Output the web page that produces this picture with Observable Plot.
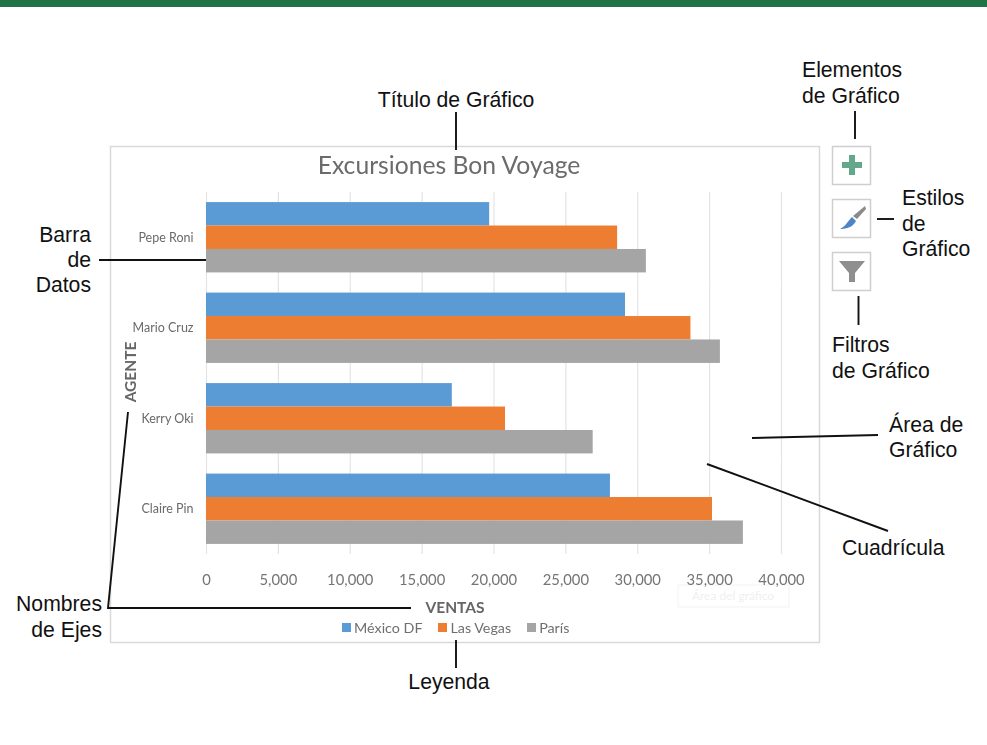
<!DOCTYPE html>
<html lang="es">
<head>
<meta charset="utf-8">
<script src="https://cdn.jsdelivr.net/npm/d3@7"></script>
<script src="https://cdn.jsdelivr.net/npm/@observablehq/plot@0.6"></script>
<style>
html,body{margin:0;padding:0;background:#fff;width:987px;height:745px;overflow:hidden}
#wrap{position:relative;width:987px;height:745px}
#wrap svg{position:absolute;left:0;top:0}
#legend{position:absolute;left:342px;top:616px;z-index:2;filter:blur(.4px)}
#legend svg{position:static;margin-right:3px !important}
#legend span{margin-right:16px !important}
g[aria-label$="tick label"],.soft{filter:blur(.4px)}
</style>
</head>
<body>
<div id="wrap"><div id="legend"></div></div>
<script>
const agents = ["Pepe Roni", "Mario Cruz", "Kerry Oki", "Claire Pin"];
const seriesNames = ["México DF", "Las Vegas", "París"];
const mexicoDF = [19700, 29150, 17100, 28100];
const lasVegas = [28600, 33700, 20800, 35200];
const paris = [30600, 35750, 26900, 37350];
const seriesColors = ["#5b9bd5", "#ed7d31", "#a5a5a5"];
const xTicks = [0, 5000, 10000, 15000, 20000, 25000, 30000, 35000, 40000];

const rows = [mexicoDF, lasVegas, paris].flatMap((vals, s) =>
  vals.map((value, a) => ({agent: agents[a], series: seriesNames[s], value})));

const chartFont = "Lato, 'Open Sans', sans-serif";
const calloutFont = "'Liberation Sans', Arial, sans-serif";

const plot = Plot.plot({
  width: 987,
  height: 745,
  marginLeft: 206,
  marginRight: 206,
  marginTop: 192,
  marginBottom: 191,
  style: {background: "transparent", overflow: "visible"},
  x: {domain: [0, 40000], label: null},
  y: {domain: seriesNames, axis: null, paddingInner: 0, paddingOuter: 0.43, round: false, label: null},
  fy: {domain: agents, padding: 0, round: false, label: null},
  color: {domain: seriesNames, range: seriesColors},
  marks: [
    Plot.ruleX(xTicks, {stroke: "#e4e4e4", strokeWidth: 1.2}),
    Plot.barX(rows, {x: "value", y: "series", fy: "agent", fill: "series"}),
    Plot.axisX({anchor: "bottom", ticks: xTicks, tickFormat: d3.format(","), tickSize: 0, tickPadding: 20,
      label: null, fill: "#757575", fontSize: 14.8, fontFamily: chartFont}),
    Plot.axisFy({anchor: "left", tickSize: 0, tickPadding: 13, label: null,
      fill: "#6a6a6a", fontSize: 12.5, fontFamily: chartFont})
  ]
});

const wrap = document.getElementById("wrap");
wrap.appendChild(plot);

/* Legend via the plot's own colour scale */
const legend = plot.legend("color", {swatchWidth: 9, swatchHeight: 9, label: null,
  style: {fontFamily: chartFont, fontSize: "14.3px", color: "#6f6f6f", margin: 0, minHeight: "22px"}});
document.getElementById("legend").appendChild(legend);

const svg = d3.select(plot);

/* Background furniture behind the plot's marks */
const back = svg.insert("g", ":first-child");
back.append("rect").attr("x", 0).attr("y", 0).attr("width", 987).attr("height", 7).attr("fill", "#217346");
back.append("rect").attr("x", 110.5).attr("y", 146.5).attr("width", 709).attr("height", 496)
  .attr("fill", "#fff").attr("stroke", "#d9d9d9").attr("stroke-width", 1.5);
/* faint hover tooltip */
back.append("rect").attr("x", 678).attr("y", 585).attr("width", 111).attr("height", 22)
  .attr("fill", "#fff").attr("stroke", "#f3f3f3");
back.append("text").attr("x", 733).attr("y", 600).attr("text-anchor", "middle")
  .attr("font-family", chartFont).attr("font-size", 12).attr("fill", "#efefef").text("Área del gráfico");

/* Chart texts */
const chartText = (x, y, t, size, opts = {}) => svg.append("text")
  .attr("class", "soft")
  .attr("transform", `translate(${x},${y}) rotate(${opts.rotate || 0})`)
  .attr("text-anchor", "middle").attr("dy", "0.35em")
  .attr("font-family", chartFont).attr("font-size", size)
  .attr("font-weight", opts.bold ? 700 : 400).attr("fill", opts.fill || "#595959").text(t);
chartText(449, 165, "Excursiones Bon Voyage", 24.7, {fill: "#6b6b6b"});
chartText(455, 608, "VENTAS", 15.5, {bold: true, fill: "#666"});
chartText(131, 372, "AGENTE", 15.5, {bold: true, rotate: -90, fill: "#666"});

/* Callout leader lines */
const leaders = [
  [[456, 112], [456, 150]],
  [[855, 111], [855, 139]],
  [[877, 219], [894, 219]],
  [[858.5, 296], [858.5, 325]],
  [[752, 438], [878, 435]],
  [[707, 464], [888, 531]],
  [[99, 260], [206, 260]],
  [[128, 412], [108, 608], [411, 608]],
  [[456, 640], [456, 668]]
];
const lineGen = d3.line();
leaders.forEach(p => svg.append("path").attr("d", lineGen(p)).attr("fill", "none")
  .attr("stroke", "#111").attr("stroke-width", 1.9));

/* Callout labels: [x, y-centre, anchor, text] */
const callouts = [
  [456, 100, "middle", "Título de Gráfico"],
  [802, 70, "start", "Elementos"],
  [802, 96, "start", "de Gráfico"],
  [902, 198, "start", "Estilos"],
  [902, 224, "start", "de"],
  [902, 249, "start", "Gráfico"],
  [832, 345, "start", "Filtros"],
  [832, 371, "start", "de Gráfico"],
  [889, 425, "start", "Área de"],
  [889, 450, "start", "Gráfico"],
  [842, 548, "start", "Cuadrícula"],
  [91, 235, "end", "Barra"],
  [91, 260, "end", "de"],
  [91, 285, "end", "Datos"],
  [102, 604, "end", "Nombres"],
  [102, 630, "end", "de Ejes"],
  [449, 682, "middle", "Leyenda"]
];
callouts.forEach(([x, y, a, t]) => svg.append("text").attr("x", x).attr("y", y).attr("dy", "0.35em")
  .attr("text-anchor", a).attr("font-family", calloutFont).attr("font-size", 21.2)
  .attr("fill", "#111").text(t));

/* Toolbar buttons */
[146.5, 199.5, 252.5].forEach(y => svg.append("rect").attr("x", 832.5).attr("y", y)
  .attr("width", 38).attr("height", 38).attr("fill", "#fff").attr("stroke", "#cfcfcf").attr("stroke-width", 1.5));
svg.append("path").attr("d", "M849 155H855V162H862V168H855V175H849V168H842V162H849Z").attr("fill", "#63a88b");
svg.append("path").attr("d", "M865 206L866 209L857 219L853 216Z").attr("fill", "#8a8a8a");
svg.append("path").attr("d", "M852 217L856 221C853 227 847 229 840 229C845 227 848 221 852 217Z").attr("fill", "#4f85c4");
svg.append("path").attr("d", "M839 261H865L855 273V282H849V273Z").attr("fill", "#8f8f8f");
</script>
</body>
</html>
